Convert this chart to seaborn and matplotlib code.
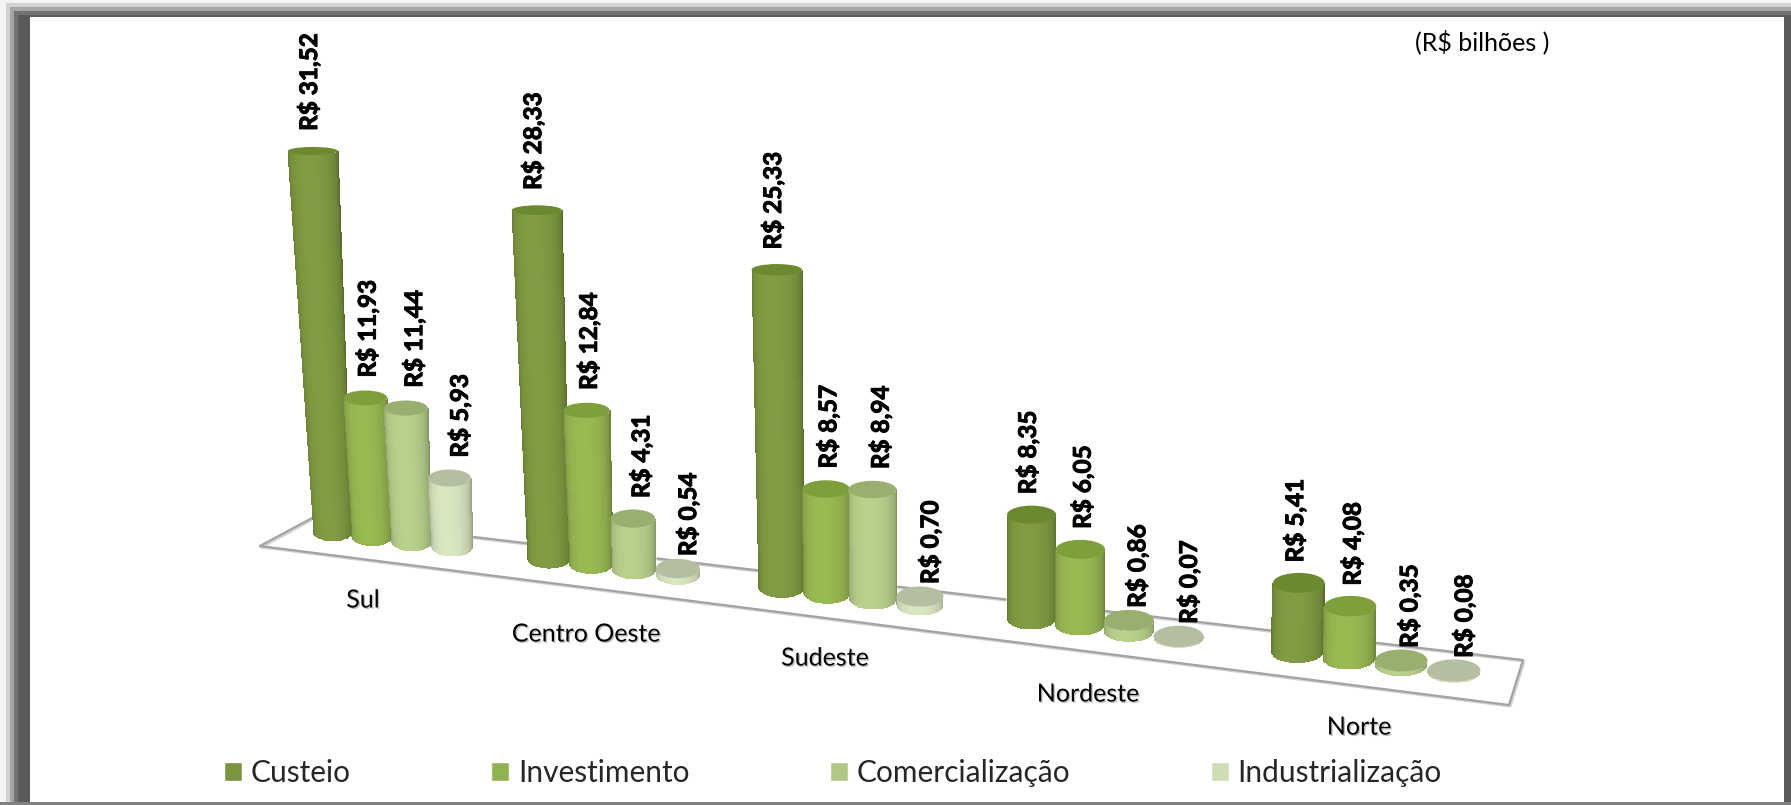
import matplotlib
matplotlib.use('Agg')
import matplotlib.patheffects as pe
import matplotlib.pyplot as plt
import numpy as np
import pandas as pd
import seaborn as sns
from matplotlib.colors import to_rgb
from matplotlib.patches import Ellipse, Rectangle
from matplotlib.transforms import Affine2D, Transform

regions = ['Sul', 'Centro Oeste', 'Sudeste', 'Nordeste', 'Norte']
series = ['Custeio', 'Investimento', 'Comercialização', 'Industrialização']
custeio = [31.52, 28.33, 25.33, 8.35, 5.41]
investimento = [11.93, 12.84, 8.57, 6.05, 4.08]
comercializacao = [11.44, 4.31, 8.94, 0.86, 0.35]
industrializacao = [5.93, 0.54, 0.70, 0.07, 0.08]

body_colors = ['#7b953f', '#92b14f', '#afc886', '#cfdcb8']
cap_colors = ['#6b8a2f', '#7f9f3c', '#98af70', '#b4bfa2']

W, H = 1791, 805
GROUP_WIDTH = 0.75
STEP = GROUP_WIDTH / 4

# image pixels (y down) to display
to_px = Affine2D().scale(1, -1).translate(0, H)


def project(u, v):
    # fake 3d: category position + value -> image pixel, fitted on the picture
    t = np.asarray(u, dtype=float) + 1.5 * STEP
    v = np.asarray(v, dtype=float)
    x0 = 333 + 207.8 * t + 8.3 * t ** 2
    y0 = 532 + 0.1245 * (x0 - 333)
    scale = 11.3 + 0.0014 * (x0 - 333) + 0.025 * v
    h = v * scale
    return x0 + h * 8.3e-5 * (x0 - 973), y0 - h


class FloorProjection(Transform):
    input_dims = 2
    output_dims = 2

    def transform_non_affine(self, values):
        x, y = project(values[:, 0], values[:, 1])
        return to_px.transform(np.column_stack([x, y]))


def cap_height(y):
    return 8 + 0.0275 * (y - 150)


def pixel_axes(fig, z):
    a = fig.add_axes([0, 0, 1, 1], zorder=z)
    a.set_xlim(0, W)
    a.set_ylim(H, 0)
    a.set_axis_off()
    return a


def draw_cylinder(art, bar, color, cap_color, z):
    uc = bar.get_x() + bar.get_width() / 2
    v = bar.get_height()
    cx0, cy0 = project(uc, 0)
    cx1, cy1 = project(uc, v)
    left, _ = project(uc - bar.get_width() / 2, 0)
    right, _ = project(uc + bar.get_width() / 2, 0)
    r0 = (right - left) / 2
    widen = 0.009 * max(0, 1 - (cx0 - 333) / 900)
    r1 = r0 * (1 + widen * v)
    e0, e1 = cap_height(cy0), cap_height(cy1)

    theta = np.linspace(np.pi, 0, 41)
    X = np.vstack([cx0 + r0 * np.cos(theta), cx1 + r1 * np.cos(theta)])
    Y = np.vstack([cy0 + e0 / 2 * np.sin(theta), cy1 + e1 / 2 * np.sin(theta)])
    pos = (np.arange(40) + 0.5) / 40
    shade = 0.7 + 0.35 * np.sin(np.pi * pos ** 0.85) ** 0.7
    rgb = np.clip(np.outer(shade, to_rgb(color)), 0, 1)[np.newaxis, :, :]
    art.pcolormesh(X, Y, rgb, zorder=z)
    art.add_patch(Ellipse((cx1, cy1), 2 * r1, e1, facecolor=cap_color, edgecolor='none', zorder=z + 0.001))
    return cy1 - e1 / 2, cx1


def main():
    sns.set_theme(style='white')
    plt.rcParams['font.family'] = ['Lato', 'DejaVu Sans']

    df = pd.DataFrame({'regiao': regions * 4,
                       'serie': np.repeat(series, 5),
                       'valor': custeio + investimento + comercializacao + industrializacao})

    fig, ax = plt.subplots(figsize=(W / 100, H / 100), dpi=100)
    ax.set_position([0, 0, 1, 1])
    ax.set_zorder(1)
    back = pixel_axes(fig, 0)
    art = pixel_axes(fig, 2)

    sns.barplot(data=df, x='regiao', y='valor', hue='serie', hue_order=series, order=regions,
                palette=body_colors, width=GROUP_WIDTH, gap=0, saturation=1, errorbar=None, ax=ax)
    handles, labels = ax.get_legend_handles_labels()
    ax.get_legend().remove()
    ax.set_axis_off()

    # outer frame, from the outside in
    frame = [(0, 0, '#f4f4f4'), (6, 3, '#d2d2d2'), (10, 7, '#a6a6a6'),
             (14, 11, '#727272'), (18, 15, '#5a5a5a')]
    for x0, y0, c in frame:
        back.add_patch(Rectangle((x0, y0), W - x0, H - y0, facecolor=c, edgecolor='none', zorder=1))
    back.add_patch(Rectangle((0, 802), W, 3, facecolor='#808080', edgecolor='none', zorder=2))
    back.add_patch(Rectangle((30, 17), 1754, 785, facecolor='white', edgecolor='none', zorder=3))

    # floor
    floor_x = [260, 312, 1523, 1509, 260]
    floor_y = [546, 518, 660, 705, 546]
    back.plot(floor_x, floor_y, color='#a3a3a3', lw=1.6, zorder=4,
              path_effects=[pe.SimpleLineShadow(offset=(1, -1), alpha=0.2), pe.Normal()])

    proj = FloorProjection()
    label_dx = [-4, 2, 8, 10]
    tops = []
    for i, cont in enumerate(ax.containers):
        for bar in cont:
            z = 2 + bar.get_x()
            bar.set_transform(proj)
            bar.set_clip_on(False)
            top, cx = draw_cylinder(art, bar, body_colors[i], cap_colors[i], z)
            tops.append((cx + label_dx[i], top, bar.get_height()))

    for x, top, v in tops:
        gap = 18 - 0.013 * top
        if v < 1:
            gap -= 8
        art.text(x, top - gap, f'R$ {v:.2f}'.replace('.', ','), rotation=90, ha='center', va='bottom',
                 fontsize=17.5, fontweight='bold', color='black', zorder=20, parse_math=False,
                 path_effects=[pe.withStroke(linewidth=0.7, foreground='black')])

    region_xy = [(363, 600), (586, 634), (825, 658), (1088, 694), (1359, 727)]
    for name, (x, y) in zip(regions, region_xy):
        art.text(x, y, name, ha='center', va='center', fontsize=18, color='black', zorder=20,
                 path_effects=[pe.withSimplePatchShadow(offset=(1, -1), alpha=0.25)])

    art.text(1482, 42, '(R$ bilhões )', ha='center', va='center', fontsize=18, color='black',
             zorder=20, parse_math=False)

    art.legend(handles, labels, ncols=4, loc='center left', bbox_to_anchor=(224 / W, 1 - 773 / H),
               bbox_transform=fig.transFigure, frameon=False, fontsize=21.5,
               handlelength=0.6, handleheight=0.6, handletextpad=0.3, columnspacing=4.7,
               borderpad=0, borderaxespad=0).set_zorder(20)

    fig.savefig('out.png', dpi=100)


if __name__ == "__main__":
    main()
